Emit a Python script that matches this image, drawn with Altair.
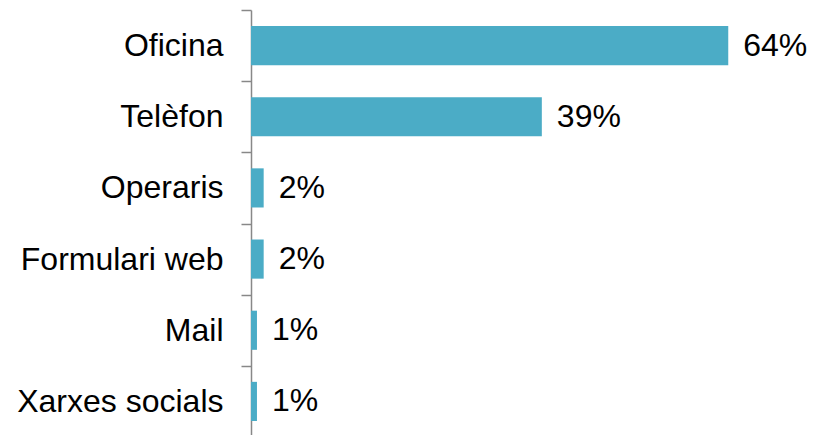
import altair as alt
import pandas as pd

categories = ["Oficina", "Telèfon", "Operaris", "Formulari web", "Mail", "Xarxes socials"]
values = [64, 39, 1.7, 1.7, 0.8, 0.8]
labels = ["64%", "39%", "2%", "2%", "1%", "1%"]

df = pd.DataFrame({"cat": categories, "val": values, "lab": labels})

y = alt.Y("cat:N", sort=categories, title=None,
          scale=alt.Scale(paddingInner=0, paddingOuter=0),
          axis=alt.Axis(tickBand="extent", domainColor="#888888", tickColor="#888888",
                        tickSize=10, labelPadding=18, labelFontSize=32, labelLimit=400,
                        labelFont="Liberation Sans", labelColor="black",
                        domainWidth=1.5, tickWidth=1.5, grid=False))
x = alt.X("val:Q", title=None, scale=alt.Scale(domain=[0, 70], nice=False), axis=None)

bars = alt.Chart(df).mark_bar(color="#4BACC6", height=alt.RelativeBandSize(0.55)).encode(x=x, y=y)
text = alt.Chart(df).mark_text(align="left", baseline="middle", dx=15, fontSize=32,
                               font="Liberation Sans", color="black").encode(x=x, y=y, text="lab:N")

chart = (bars + text).properties(
    width=522, height=427,
    autosize=alt.AutoSizeParams(type="none"),
    padding={"left": 251, "top": 10, "right": 45, "bottom": 0},
).configure_view(stroke=None)

chart.save("out.html", embed_options={"renderer": "svg", "actions": False})
